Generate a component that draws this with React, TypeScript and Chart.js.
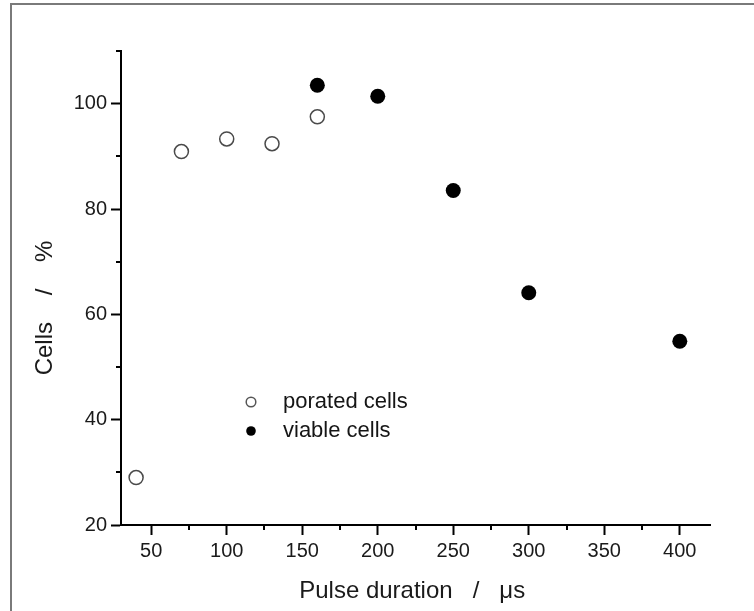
import React, { useEffect, useRef } from "react";
import { Chart, registerables } from "chart.js";

Chart.register(...registerables);

// ---- data ----
const poratedX = [40, 70, 100, 130, 160];
const poratedY = [29, 90.9, 93.3, 92.4, 97.5];
const viableX = [160, 200, 250, 300, 400];
const viableY = [103.5, 101.4, 83.5, 64.1, 54.9];

const xMajorTicks = [50, 100, 150, 200, 250, 300, 350, 400];
const xMinorTicks = [75, 125, 175, 225, 275, 325, 375];
const yMajorTicks = [20, 40, 60, 80, 100];
const yMinorTicks = [30, 50, 70, 90, 110];

const seriesLabels = ["porated cells", "viable cells"];
const xTitle = "Pulse duration   /   \u03bcs ";
const yTitle = "Cells    /    %      ";

const FONT = "'Liberation Sans', Arial, Helvetica, sans-serif";

const framePlugin = {
  id: "frame",
  beforeDraw(chart: any) {
    const { ctx, width, height } = chart;
    ctx.save();
    ctx.fillStyle = "#ffffff";
    ctx.fillRect(0, 0, width, height);
    ctx.fillStyle = "#7a7a7a";
    ctx.fillRect(10, 3, width - 10, 2);
    ctx.fillRect(10, 3, 2, height - 3);
    ctx.restore();
  },
};

const minorTickPlugin = {
  id: "minorTicks",
  afterDraw(chart: any) {
    const { ctx, chartArea, scales } = chart;
    ctx.save();
    ctx.strokeStyle = "#000";
    ctx.lineWidth = 2;
    ctx.beginPath();
    xMinorTicks.forEach((v) => {
      const px = Math.round(scales.x.getPixelForValue(v));
      ctx.moveTo(px, chartArea.bottom);
      ctx.lineTo(px, chartArea.bottom + 5);
    });
    yMinorTicks.forEach((v) => {
      const py = Math.round(scales.y.getPixelForValue(v));
      ctx.moveTo(chartArea.left, py);
      ctx.lineTo(chartArea.left - 5, py);
    });
    ctx.stroke();
    ctx.restore();
  },
};

const legendPlugin = {
  id: "insideLegend",
  afterDraw(chart: any) {
    const { ctx, chartArea } = chart;
    const x0 = chartArea.left + 130;
    const y0 = chartArea.top + 351;
    const gap = 29;
    ctx.save();
    chart.data.datasets.forEach((ds: any, i: number) => {
      const cy = y0 + i * gap;
      ctx.beginPath();
      ctx.arc(x0, cy, 4.8, 0, Math.PI * 2);
      if (i === 0) {
        ctx.fillStyle = "#fff";
        ctx.fill();
        ctx.lineWidth = 1.5;
        ctx.strokeStyle = "#555";
        ctx.stroke();
      } else {
        ctx.fillStyle = "#000";
        ctx.fill();
      }
      ctx.fillStyle = "#151515";
      ctx.font = `22px ${FONT}`;
      ctx.textBaseline = "middle";
      ctx.textAlign = "left";
      ctx.fillText(ds.label, x0 + 32, cy);
    });
    ctx.restore();
  },
};

export default function App() {
  const ref = useRef<HTMLCanvasElement | null>(null);

  useEffect(() => {
    if (!ref.current) return;
    const chart = new Chart(ref.current, {
      type: "scatter",
      data: {
        datasets: [
          {
            label: seriesLabels[0],
            data: poratedX.map((x, i) => ({ x, y: poratedY[i] })),
            pointRadius: 7,
            pointBorderWidth: 1.5,
            borderColor: "#4a4a4a",
            backgroundColor: "#ffffff",
            pointHoverRadius: 7,
          },
          {
            label: seriesLabels[1],
            data: viableX.map((x, i) => ({ x, y: viableY[i] })),
            pointRadius: 7.5,
            pointBorderWidth: 0,
            borderColor: "#000",
            backgroundColor: "#000",
            pointHoverRadius: 7.5,
          },
        ],
      },
      options: {
        responsive: false,
        animation: false,
        events: [],
        layout: { padding: { top: 51, right: 44, bottom: 0, left: 0 } },
        plugins: {
          legend: { display: false },
          tooltip: { enabled: false },
          title: { display: false },
        },
        scales: {
          x: {
            type: "linear",
            min: 30,
            max: 420,
            afterBuildTicks: (s: any) => {
              s.ticks = xMajorTicks.map((v) => ({ value: v }));
            },
            afterFit: (s: any) => {
              s.height = 86;
            },
            grid: {
              drawOnChartArea: false,
              drawTicks: true,
              tickLength: 10,
              tickWidth: 2,
              tickColor: "#000",
            },
            border: { display: true, color: "#000", width: 2 },
            ticks: {
              color: "#1a1a1a",
              font: { family: FONT, size: 20 },
              padding: 4,
              maxRotation: 0,
              autoSkip: false,
            },
            title: {
              display: true,
              text: xTitle,
              color: "#1a1a1a",
              font: { family: FONT, size: 24 },
              padding: { top: 0, bottom: 5 },
            },
          },
          y: {
            type: "linear",
            min: 20,
            max: 110,
            afterBuildTicks: (s: any) => {
              s.ticks = yMajorTicks.map((v) => ({ value: v }));
            },
            afterFit: (s: any) => {
              s.width = 121;
            },
            grid: {
              drawOnChartArea: false,
              drawTicks: true,
              tickLength: 10,
              tickWidth: 2,
              tickColor: "#000",
            },
            border: { display: true, color: "#000", width: 2 },
            ticks: {
              color: "#1a1a1a",
              font: { family: FONT, size: 20 },
              padding: 4,
              autoSkip: false,
            },
            title: {
              display: true,
              text: yTitle,
              color: "#1a1a1a",
              font: { family: FONT, size: 24 },
              padding: { top: 31, bottom: 0 },
            },
          },
        },
      },
      plugins: [framePlugin, minorTickPlugin, legendPlugin],
    } as any);
    return () => chart.destroy();
  }, []);

  return (
    <div style={{ position: "fixed", left: 0, top: 0, width: 754, height: 611, background: "#fff" }}>
      <canvas ref={ref} width={754} height={611} style={{ display: "block" }} />
    </div>
  );
}
